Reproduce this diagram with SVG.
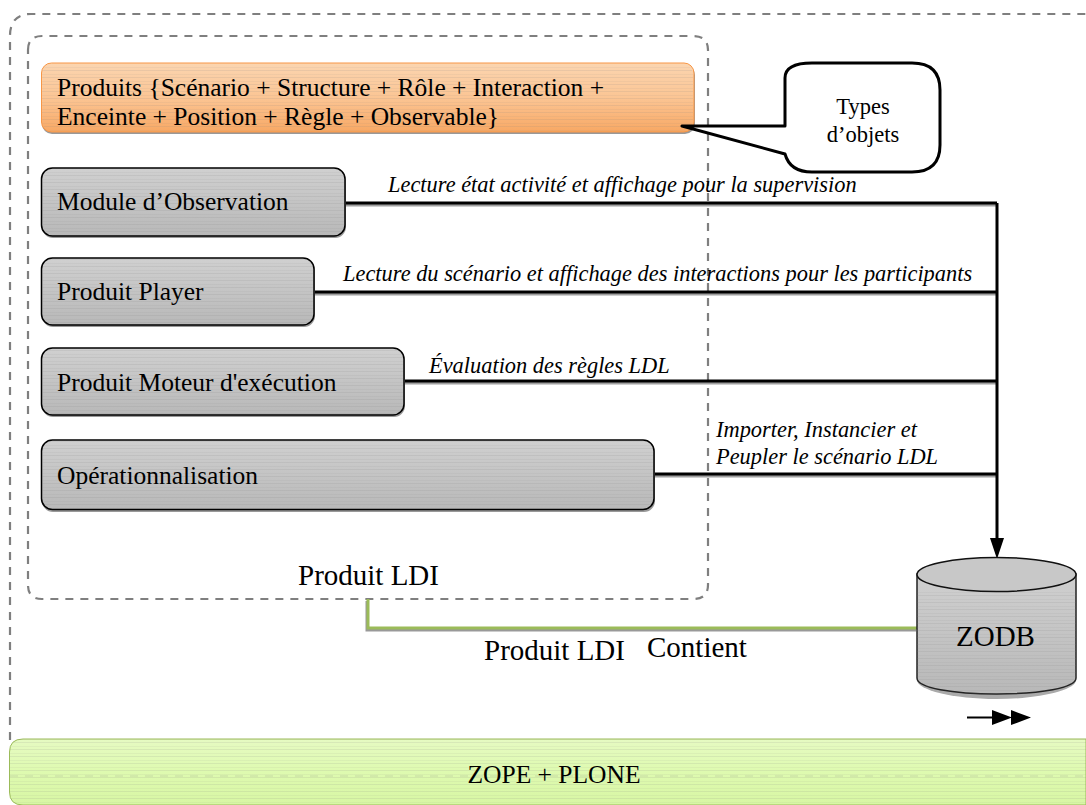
<svg xmlns="http://www.w3.org/2000/svg" width="1086" height="805" viewBox="0 0 1086 805">
<style>
text{font-family:"Liberation Serif","Times New Roman",serif;fill:#000}
.t{font-size:25.500px}
.i{font-size:22.400px;font-style:italic}
.l{font-size:29px}
.c{font-size:22.500px;text-anchor:middle}
.m{text-anchor:middle}
.dash{fill:none;stroke:#7f7f7f;stroke-width:2.200;stroke-dasharray:8 7}
.box{stroke:#000;stroke-width:1.500;fill:url(#g)}
.stripe{fill:url(#s);stroke:none}
.shadow{fill:#999;stroke:none}
.wire{fill:none;stroke:#000;stroke-width:3}
.wshadow{fill:none;stroke:#a0a0a0;stroke-width:3}
</style>
<defs>
<linearGradient id="g" x1="0" y1="0" x2="0" y2="1"><stop offset="0" stop-color="#d0d0d0"/><stop offset="0.5" stop-color="#c4c4c4"/><stop offset="1" stop-color="#b8b8b8"/></linearGradient>
<linearGradient id="o" x1="0" y1="0" x2="0" y2="1"><stop offset="0" stop-color="#fbd5b0"/><stop offset="0.5" stop-color="#fbc594"/><stop offset="1" stop-color="#f8a864"/></linearGradient>
<linearGradient id="gr" x1="0" y1="0" x2="0" y2="1"><stop offset="0" stop-color="#e6fac2"/><stop offset="0.5" stop-color="#defab0"/><stop offset="1" stop-color="#d8f6a4"/></linearGradient>
<pattern id="s" width="8" height="7" patternUnits="userSpaceOnUse"><rect y="0" width="8" height="1" fill="#808080" fill-opacity="0.14"/><rect y="4" width="8" height="1" fill="#808080" fill-opacity="0.08"/></pattern>
</defs>

<path id="outer-frame" class="dash" d="M10 740V36Q10 14 31 14H1086"/>
<path id="inner-frame" class="dash" d="M28 50Q28 36 42 36H693Q708 36 708 50V585Q708 599 693 599H42Q28 599 28 585Z"/>

<g id="connectors">
<path class="wshadow" d="M345 205H997M314 294H997M404 383H997M654 476H997"/>
<path class="wire" d="M345 203H997M314 292H997M404 381H997M654 474H997"/>
<path class="wire" d="M997 203V540"/>
<path d="M990 538H1004L997 559Z" fill="#000"/>
<path d="M368 599V628H917" fill="none" stroke="#999" stroke-width="3" transform="translate(-1 2)"/>
<path d="M368 599V628H917" fill="none" stroke="#9bbb59" stroke-width="3"/>
<path d="M967 717.500H1000" stroke="#000" stroke-width="2"/>
<path d="M992 710L1012 717.500L992 725ZM1011 710L1031 717.500L1011 725Z" fill="#000"/>
</g>

<g id="produits">
<rect class="shadow" x="42" y="65" width="653" height="69" rx="10"/>
<rect x="41.500" y="63" width="652.500" height="69" rx="10" fill="url(#o)" stroke="#f79646" stroke-width="1"/>
<rect class="stripe" x="42" y="64" width="651" height="67" rx="10"/>
<text class="t" x="57" y="96">Produits {Scénario + Structure + Rôle + Interaction +</text>
<text class="t" x="57" y="125">Enceinte + Position + Règle + Observable}</text>
</g>
<g id="module-observation">
<rect class="shadow" x="42" y="170" width="304" height="68" rx="11"/>
<rect class="box" x="41.500" y="168" width="303.500" height="68" rx="11"/>
<rect class="stripe" x="42" y="169" width="302" height="66" rx="11"/>
<text class="t" x="57" y="210">Module d’Observation</text>
</g>
<g id="produit-player">
<rect class="shadow" x="42" y="260" width="273" height="67" rx="11"/>
<rect class="box" x="41.500" y="258" width="272.500" height="67" rx="11"/>
<rect class="stripe" x="42" y="259" width="271" height="65" rx="11"/>
<text class="t" x="57" y="300">Produit Player</text>
</g>
<g id="produit-moteur">
<rect class="shadow" x="42" y="350" width="363" height="67" rx="11"/>
<rect class="box" x="41.500" y="348" width="362.500" height="67" rx="11"/>
<rect class="stripe" x="42" y="349" width="361" height="65" rx="11"/>
<text class="t" x="57" y="391">Produit Moteur d'exécution</text>
</g>
<g id="operationnalisation">
<rect class="shadow" x="42" y="442" width="613" height="70" rx="11"/>
<rect class="box" x="41.500" y="440" width="612.500" height="69.500" rx="11"/>
<rect class="stripe" x="42" y="441" width="611" height="68" rx="11"/>
<text class="t" x="57" y="484">Opérationnalisation</text>
</g>

<g id="callout">
<path d="M785 78Q785 63 812 63H912Q940 63 940 90V145Q940 172 912 172H812Q790 172 785 154L682 126H785Z" fill="#fff" stroke="#000" stroke-width="3" stroke-linejoin="round"/>
<text class="c" x="863" y="114">Types</text>
<text class="c" x="863" y="142">d’objets</text>
</g>

<g id="zodb">
<path d="M917 574V678C917 688 953 697 996.500 697S1076 688 1076 678V574Z" fill="#aaa" transform="translate(0 2)"/>
<path d="M917 574V678C917 688 953 694 996.500 694S1076 688 1076 678V574Z" fill="url(#g)" stroke="#222" stroke-width="1.500"/>
<path d="M917 592V678C917 688 953 694 996.500 694S1076 688 1076 678V592Z" class="stripe"/>
<ellipse cx="996.500" cy="574.500" rx="79.500" ry="17" fill="#c8c8c8" stroke="#111" stroke-width="1.500"/>
<text class="l m" x="995.500" y="646">ZODB</text>
</g>

<g id="zope-plone">
<path d="M1086 739H23Q9.500 739 9.500 752V792Q9.500 805 23 805H1086Z" fill="url(#gr)" stroke="#9bbb59" stroke-width="1"/>
<path d="M1086 739H23Q10 739 10 752V792Q10 805 23 805H1086Z" class="stripe"/>
<path d="M10 776H1086" stroke="#7f7f7f" stroke-opacity="0.25" stroke-dasharray="8 7" fill="none"/>
<text class="t m" x="554" y="783">ZOPE + PLONE</text>
</g>

<g id="labels">
<text class="i" x="388" y="192">Lecture état activité et affichage pour la supervision</text>
<text class="i" x="343" y="281">Lecture du scénario et affichage des interactions pour les participants</text>
<text class="i" x="429" y="373">Évaluation des règles LDL</text>
<text class="i" x="716" y="437">Importer, Instancier et</text>
<text class="i" x="716" y="464">Peupler le scénario LDL</text>
<text class="l" x="298" y="585">Produit LDI</text>
<text class="l" x="484" y="660">Produit LDI</text>
<text class="l" x="647" y="657">Contient</text>
</g>
</svg>
